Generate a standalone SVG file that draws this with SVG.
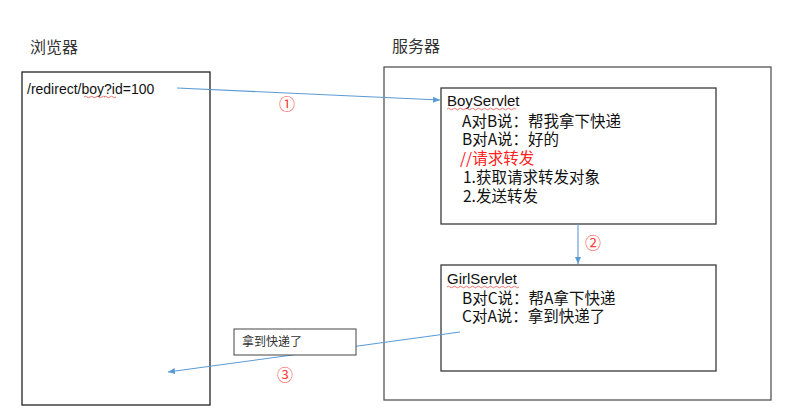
<svg xmlns="http://www.w3.org/2000/svg" width="800" height="418" viewBox="0 0 800 418">
<style>
.box{fill:#fff;stroke:#3a3a3a;stroke-width:1.3}
.t{font-family:"Noto Sans CJK SC","Noto Sans",sans-serif;font-size:15.5px;fill:#111}
.lat{font-family:"Liberation Sans",Arial,sans-serif;font-size:14px;fill:#111}
.title{font-family:"Noto Sans CJK SC",sans-serif;font-size:16px;fill:#333}
.num{font-family:"Noto Sans CJK SC",sans-serif;font-size:16px;fill:#ff3b3b}
.conn{fill:none;stroke:#5b9bd5;stroke-width:1.1}
.sq{fill:none;stroke:#e05050;stroke-width:0.8}
</style>
<defs>
<marker id="ah" markerWidth="8" markerHeight="8" refX="7" refY="4" orient="auto" markerUnits="userSpaceOnUse">
<path d="M0,1 L7,4 L0,7 Z" fill="#5b9bd5"/>
</marker>
</defs>
<rect width="800" height="418" fill="#fff"/>
<text class="title" x="30" y="53">浏览器</text>
<text class="title" x="392" y="52">服务器</text>
<g id="browser">
<rect class="box" x="22" y="72" width="188" height="333" style="stroke:#222"/>
<text class="lat" x="27" y="94">/redirect/boy?id=100</text>
<path class="sq" d="M84,97 q1.5,-1.5 3,0 t3,0 t3,0 t3,0 t3,0 t3,0 t3,0 M104,97 q1.5,-1.5 3,0 t3,0 t3,0 t3,0"/>
</g>
<g id="server">
<rect class="box" x="384" y="67" width="387" height="333" style="stroke:#555"/>
</g>
<g id="boyservlet">
<rect class="box" x="441" y="88" width="275" height="136"/>
<text class="lat" x="447" y="106" style="font-size:15px">BoyServlet</text>
<path class="sq" d="M447,109 q1.5,-1.5 3,0 t3,0 t3,0 t3,0 t3,0 t3,0 t3,0 t3,0 t3,0 t3,0 t3,0 t3,0 t3,0 t3,0 t3,0 t3,0 t3,0 t3,0 t3,0 t3,0 t3,0 t3,0 t3,0"/>
<text class="t" x="462" y="127">A对B说：帮我拿下快递</text>
<text class="t" x="462" y="145">B对A说：好的</text>
<text class="t" x="460" y="164" style="fill:#ff2020">//请求转发</text>
<text class="t" x="463" y="183">1.获取请求转发对象</text>
<text class="t" x="463" y="202">2.发送转发</text>
</g>
<g id="girlservlet">
<rect class="box" x="441" y="265" width="275" height="106"/>
<text class="lat" x="447" y="284" style="font-size:15px">GirlServlet</text>
<path class="sq" d="M447,287 q1.5,-1.5 3,0 t3,0 t3,0 t3,0 t3,0 t3,0 t3,0 t3,0 t3,0 t3,0 t3,0 t3,0 t3,0 t3,0 t3,0 t3,0 t3,0 t3,0 t3,0 t3,0 t3,0 t3,0 t3,0 t3,0"/>
<text class="t" x="462" y="304">B对C说：帮A拿下快递</text>
<text class="t" x="462" y="322">C对A说：拿到快递了</text>
</g>
<g id="connectors">
<path class="conn" d="M177,88 L440,100" marker-end="url(#ah)"/>
<path class="conn" d="M578,224 L578,264" marker-end="url(#ah)"/>
<path class="conn" d="M460,332 L168,372" marker-end="url(#ah)"/>
</g>
<g id="label3">
<rect x="234" y="329" width="122" height="26" fill="#fff" stroke="#444" stroke-width="1"/>
<text x="242" y="346" style="font-family:'Noto Sans CJK SC',sans-serif;font-size:12px;fill:#333">拿到快递了</text>
</g>
<text class="num" x="279" y="110">①</text>
<text class="num" x="585" y="249">②</text>
<text class="num" x="277" y="381">③</text>
</svg>
